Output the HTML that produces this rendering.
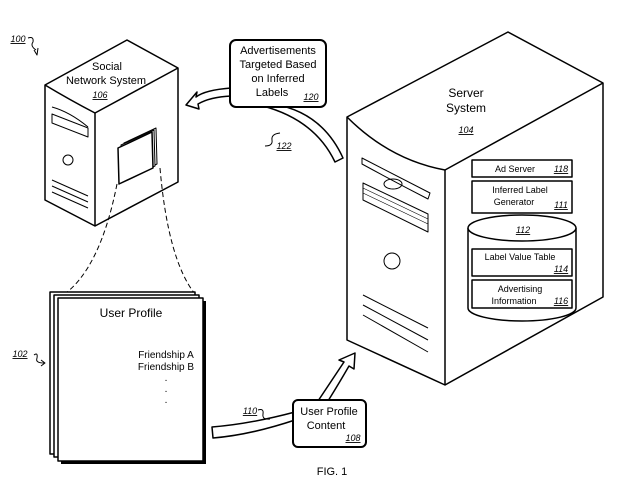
<!DOCTYPE html>
<html><head><meta charset="utf-8"><style>
html,body{margin:0;padding:0;background:#fff;}
svg{display:block;font-family:"Liberation Sans",sans-serif;}
.n{font-family:"Liberation Sans",sans-serif;font-style:italic;text-decoration:underline;font-size:9px;}
</style></head><body>
<svg width="620" height="484" viewBox="0 0 620 484" xmlns="http://www.w3.org/2000/svg">
<g fill="none" stroke="#000" stroke-width="1.5" stroke-linejoin="round">
<path d="M45,85 L127,40 L178,68 L178,182 L95,226 L45,200 Z" fill="#fff"/>
<path d="M45,85 Q70,100 95,113 L178,68"/>
<path d="M95,113 L95,226"/>
<path d="M52,107 Q70,112 88,127" stroke-width="1"/>
<path d="M52,114 L88,128 L88,137 L52,123 Z" stroke-width="1"/>
<circle cx="68" cy="160" r="5" stroke-width="1"/>
<path d="M52,180 L88,196 M52,186 L88,202 M52,192 L88,208" stroke-width="1"/>
<!-- small doc stack -->
<path d="M124,143 L156,128 L157,164 L125,179 Z" fill="#fff" stroke-width="1"/>
<path d="M121,145 L154,130 L155,166 L122,181 Z" fill="#fff" stroke-width="1"/>
<path d="M118,148 L152,132 L153,168 L119,184 Z" fill="#fff"/>
<path d="M117,184 Q100,270 62,296" stroke-dasharray="5,3" stroke-width="1"/>
<path d="M160,168 Q168,260 195,294" stroke-dasharray="5,3" stroke-width="1"/>
<rect x="50" y="292" width="145" height="162" fill="#fff"/>
<rect x="54" y="295" width="145" height="162" fill="#fff"/>
<rect x="61" y="301" width="145" height="163" fill="#000" stroke="none"/>
<rect x="58" y="298" width="145" height="163" fill="#fff"/>
<path d="M347,117 L508,32 L603,83 L603,297 L445,385 L347,340 Z" fill="#fff"/>
<path d="M347,117 Q390,160 445,170 L603,83"/>
<path d="M445,170 L445,385"/>
<path d="M362,158 Q395,175 430,193 L428,199 Q395,182 362,164 Z" stroke-width="1"/>
<ellipse cx="393" cy="184" rx="9" ry="5" stroke-width="1"/>
<path d="M363,183 L428,214 L428,232 L363,200 Z" stroke-width="1"/>
<path d="M363,188 L428,219 M363,193 L428,224" stroke-width="0.6"/>
<circle cx="392" cy="261" r="8" stroke-width="1"/>
<path d="M363,295 L428,328 M363,305 L428,340 M363,315 L428,352" stroke-width="1"/>
<rect x="472" y="160" width="100" height="17" fill="#fff"/>
<rect x="472" y="181" width="100" height="32" fill="#fff"/>
<path d="M468,228 L468,308 A54,13 0 0 0 576,308 L576,228" fill="#fff"/>
<ellipse cx="522" cy="228" rx="54" ry="13" fill="#fff"/>
<rect x="472" y="249" width="100" height="27" fill="#fff"/>
<rect x="472" y="280" width="100" height="28" fill="#fff"/>
<path d="M231,88 Q205,90 196,97 L197,92 L186,105 L199,109 L198,104 Q210,97 231,96" fill="#fff"/>
<path d="M263,106 Q315,120 335,162 L343,158 Q322,112 273,104" fill="#fff"/>
<rect x="230" y="40" width="96" height="67" rx="6" fill="#fff" stroke-width="2"/>
<path d="M212,427 Q250,424 295,412 L295,420 Q250,435 213,438 Z" fill="#fff"/>
<path d="M318,401 Q332,380 344,362 L339,360 L355,353 L354,369 L349,366 Q338,385 328,401" fill="#fff"/>
<rect x="293" y="400" width="73" height="47" rx="5" fill="#fff" stroke-width="2"/>
<path d="M28,38 Q34,36 33,42 Q30,46 36,50" stroke-width="1"/>
<path d="M34,50 L37,55 L38,48" stroke-width="1"/>
<path d="M34,355 Q38,352 37,358 Q35,363 44,363" stroke-width="1"/>
<path d="M41,360 L45,363 L41,366" stroke-width="1"/>
<path d="M265,146 Q273,146 272,140 Q271,134 280,133" stroke-width="1"/>
<path d="M258,410 Q264,408 263,414 Q262,420 270,419" stroke-width="1"/>
</g>
<g font-size="11" text-anchor="middle" fill="#000">
<text x="107" y="70">Social</text>
<text x="106" y="84">Network System</text>
<text x="100" y="98" class="n" font-size="9">106</text>
<text x="278" y="54">Advertisements</text>
<text x="278" y="68">Targeted Based</text>
<text x="278" y="82">on Inferred</text>
<text x="272" y="96">Labels</text>
<text x="311" y="100" class="n">120</text>
<text x="466" y="97" font-size="12">Server</text>
<text x="466" y="112" font-size="12">System</text>
<text x="466" y="133" class="n">104</text>
<text x="515" y="172" font-size="9">Ad Server</text>
<text x="561" y="172" class="n">118</text>
<text x="520" y="193" font-size="9">Inferred Label</text>
<text x="514" y="205" font-size="9">Generator</text>
<text x="561" y="208" class="n">111</text>
<text x="523" y="233" class="n">112</text>
<text x="520" y="260" font-size="9">Label Value Table</text>
<text x="561" y="272" class="n">114</text>
<text x="520" y="292" font-size="9">Advertising</text>
<text x="514" y="304" font-size="9">Information</text>
<text x="561" y="304" class="n">116</text>
<text x="131" y="317" font-size="12">User Profile</text>
<text x="166" y="358" font-size="10">Friendship A</text>
<text x="166" y="370" font-size="10">Friendship B</text>
<text x="166" y="381" font-size="10">.</text>
<text x="166" y="392" font-size="10">.</text>
<text x="166" y="403" font-size="10">.</text>
<text x="329" y="415">User Profile</text>
<text x="326" y="429">Content</text>
<text x="353" y="441" class="n">108</text>
<text x="332" y="475" font-size="11">FIG. 1</text>
<text x="18" y="42" class="n" text-decoration="none">100</text>
<text x="20" y="357" class="n" text-decoration="none">102</text>
<text x="284" y="149" class="n" text-decoration="none">122</text>
<text x="250" y="414" class="n" text-decoration="none">110</text>
</g>
</svg>
</body></html>
